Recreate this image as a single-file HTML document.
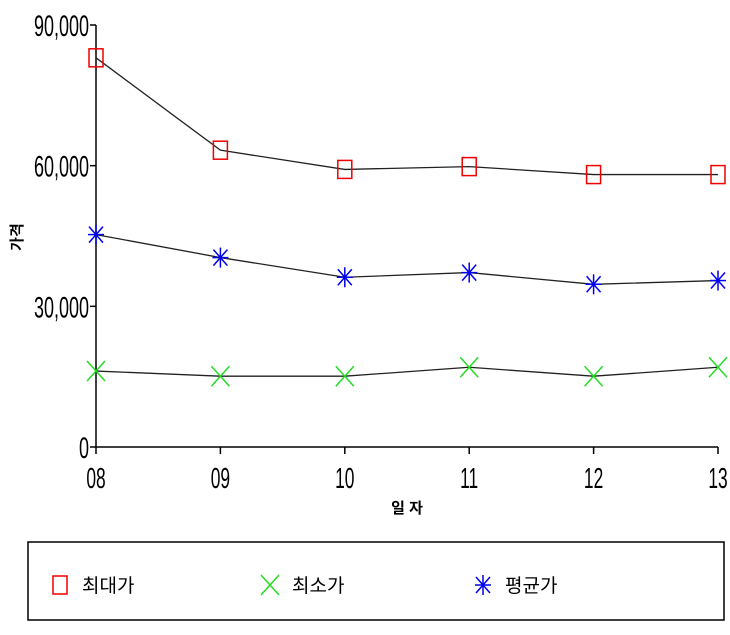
<!DOCTYPE html>
<html><head><meta charset="utf-8"><style>
body{margin:0;background:#fff;width:730px;height:630px;overflow:hidden}
text{font-family:"Liberation Sans","Noto Sans CJK KR",sans-serif}
</style></head><body>
<svg id="c" width="730" height="630" viewBox="0 0 730 630" xmlns="http://www.w3.org/2000/svg"></svg>
<script>
const categories=["08","09","10","11","12","13"];
const maxValues=[83000,63300,59200,59800,58100,58100];
const minValues=[16200,15100,15100,17000,15100,17000];
const avgValues=[45300,40400,36200,37200,34700,35500];
const yTicks=[0,30000,60000,90000];
const yTickLabels=["0","30,000","60,000","90,000"];
const NS="http://www.w3.org/2000/svg";
const svg=document.getElementById('c');
const x0=96,xStep=124.4,yBase=447,yTop=25,yMax=90000;
const xs=i=>x0+i*xStep;
const ys=v=>yBase-(v/yMax)*(yBase-yTop);
function mk(t,a,p){const e=document.createElementNS(NS,t);for(const k in a)e.setAttribute(k,a[k]);(p||svg).appendChild(e);return e;}
const ax=mk('g',{});


mk('line',{x1:x0,y1:yTop,x2:x0,y2:yBase,stroke:'#000','stroke-width':1.5},ax);
mk('line',{x1:x0,y1:yBase,x2:xs(5),y2:yBase,stroke:'#000','stroke-width':1.5},ax);
yTicks.forEach((v,i)=>{
  mk('line',{x1:x0-6,y1:ys(v),x2:x0,y2:ys(v),stroke:'#000','stroke-width':1.5},ax);
  const t=mk('text',{x:x0-7,y:ys(v)+11,'text-anchor':'end','font-size':30,transform:`translate(${x0-7},0) scale(0.6,1) translate(${-(x0-7)},0)`},ax);
  t.textContent=yTickLabels[i];
  
  
});
categories.forEach((c,i)=>{
  mk('line',{x1:xs(i),y1:yBase,x2:xs(i),y2:yBase+7,stroke:'#000','stroke-width':1.5},ax);
  const t=mk('text',{x:xs(i),y:488,'text-anchor':'middle','font-size':29,transform:`translate(${xs(i)},0) scale(0.6,1) translate(${-xs(i)},0)`},ax);
  t.textContent=c;
  
  
});
const xt=mk('text',{x:407,y:513,'text-anchor':'middle','font-size':15,'font-weight':'bold'});
xt.textContent='일 자';


const yt=mk('text',{x:22,y:237,'text-anchor':'middle','font-size':15,'font-weight':'bold',transform:'rotate(-90 22 237)'});
yt.textContent='가격';


function marker(kind,cx,cy,g){
  if(kind==='sq') mk('rect',{x:cx-7,y:cy-9,width:14,height:18,fill:'none',stroke:'#e00','stroke-width':1.5},g);
  else if(kind==='x'){mk('line',{x1:cx-9,y1:cy-10,x2:cx+9,y2:cy+10,stroke:'#2d2','stroke-width':1.5},g);mk('line',{x1:cx+9,y1:cy-10,x2:cx-9,y2:cy+10,stroke:'#2d2','stroke-width':1.5},g);}
  else {mk('line',{x1:cx-8,y1:cy,x2:cx+8,y2:cy,stroke:'#00e','stroke-width':1.5},g);mk('line',{x1:cx,y1:cy-10,x2:cx,y2:cy+10,stroke:'#00e','stroke-width':1.5},g);mk('line',{x1:cx-7,y1:cy-8,x2:cx+7,y2:cy+8,stroke:'#00e','stroke-width':1.5},g);mk('line',{x1:cx+7,y1:cy-8,x2:cx-7,y2:cy+8,stroke:'#00e','stroke-width':1.5},g);}
}
[[maxValues,'sq','series-max'],[minValues,'x','series-min'],[avgValues,'st','series-avg']].forEach(([vals,k,n])=>{
  const g=mk('g',{});
  
  
  mk('polyline',{points:vals.map((v,i)=>xs(i)+','+ys(v)).join(' '),fill:'none',stroke:'#222','stroke-width':1.3},g);
  vals.forEach((v,i)=>marker(k,xs(i),ys(v),g));
});
const lg=mk('g',{});


mk('rect',{x:28,y:542,width:696,height:78,fill:'none',stroke:'#000','stroke-width':1.5},lg);
[['sq',60,'최대가','legend-max'],['x',270,'최소가','legend-min'],['st',483,'평균가','legend-avg']].forEach(([k,x,l,n])=>{
  const e=mk('g',{},lg);
  
  
  marker(k,x,585,e);
  const t=mk('text',{x:x+22,y:592,'font-size':19},e);
  t.textContent=l;
});
</script>
</body></html>
